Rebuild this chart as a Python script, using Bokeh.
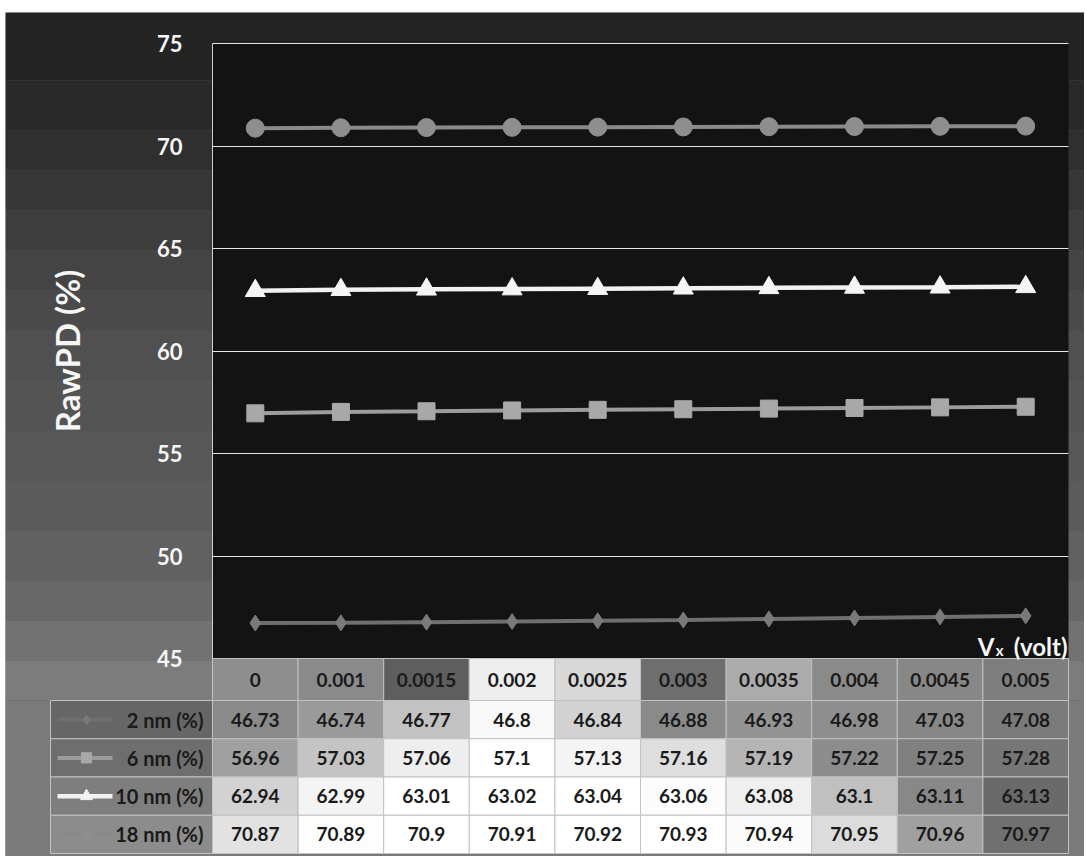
import math
from bokeh.plotting import figure
from bokeh.models import ColumnDataSource, FixedTicker, Label, Range1d
from bokeh.core.properties import value
from bokeh.embed import file_html
from bokeh.resources import INLINE

# ---------------- data ----------------
x_labels = ["0", "0.001", "0.0015", "0.002", "0.0025", "0.003", "0.0035", "0.004", "0.0045", "0.005"]
series_names = ["2 nm (%)", "6 nm (%)", "10 nm (%)", "18 nm (%)"]
nm2 = [46.73, 46.74, 46.77, 46.8, 46.84, 46.88, 46.93, 46.98, 47.03, 47.08]
nm6 = [56.96, 57.03, 57.06, 57.1, 57.13, 57.16, 57.19, 57.22, 57.25, 57.28]
nm10 = [62.94, 62.99, 63.01, 63.02, 63.04, 63.06, 63.08, 63.1, 63.11, 63.13]
nm18 = [70.87, 70.89, 70.9, 70.91, 70.92, 70.93, 70.94, 70.95, 70.96, 70.97]
y_ticks = [45, 50, 55, 60, 65, 70, 75]

# ---------------- styles / layout ----------------
FONT = "Lato"
series_values = [nm2, nm6, nm10, nm18]
series_line_colors = ["#6f6f6f", "#9c9c9c", "#f2f2f2", "#8a8a8a"]
series_marker_colors = ["#7a7a7a", "#a8a8a8", "#f4f4f4", "#8e8e8e"]
series_markers = ["diamond", "square", "triangle", "circle"]
series_marker_sizes = [16, 17, 20, 18]
series_line_widths = [4, 4, 4.5, 4]

COL_PX = 85.6          # one category column in pixels
PX_PER_UNIT = 20.5     # pixels per y unit
PLOT_LEFT_PX, PLOT_TOP_PX = 212, 43


def dx(px):  # horizontal page pixel -> data x
    return -0.5 + (px - PLOT_LEFT_PX) / COL_PX


def dy(py):  # vertical page pixel -> data y
    return 75 - (py - PLOT_TOP_PX) / PX_PER_UNIT


FRAME_L, FRAME_R, FRAME_T, FRAME_B = 5, 1084, 12, 856
TABLE_LEFT = dx(50)
HEADER_BOT = dy(700)
ROW_H = 38.25 / PX_PER_UNIT

# background tones (top -> bottom bands, page pixels)
bg_bands = [(12, 80, "#242424"), (80, 130, "#292929"), (130, 170, "#2f2f2f"), (170, 210, "#363636"),
            (210, 250, "#3d3d3d"), (250, 290, "#444444"), (290, 330, "#4a4a4a"), (330, 380, "#505050"),
            (380, 430, "#545454"), (430, 480, "#575757"), (480, 530, "#5b5b5b"), (530, 580, "#616161"),
            (580, 620, "#686868"), (620, 660, "#727272"), (660, 700, "#7c7c7c"), (700, 856, "#7a7a7a")]

# approximate background tones of the table cells (header row + 4 rows)
header_fills = ["#8e8e8e", "#8a8a8a", "#5e5e5e", "#eeeeee", "#d8d8d8",
                "#6e6e6e", "#ababab", "#8a8a8a", "#878787", "#7e7e7e"]
legend_fills = ["#666666", "#6e6e6e", "#7e7e7e", "#8c8c8c"]
row_fills = [
    ["#8a8a8a", "#9a9a9a", "#c2c2c2", "#f8f8f8", "#d2d2d2", "#8a8a8a", "#949494", "#8e8e8e", "#878787", "#7a7a7a"],
    ["#a0a0a0", "#c4c4c4", "#eeeeee", "#ffffff", "#f4f4f4", "#dedede", "#b4b4b4", "#8c8c8c", "#808080", "#767676"],
    ["#d2d2d2", "#f4f4f4", "#ffffff", "#ffffff", "#ffffff", "#fcfcfc", "#efefef", "#c0c0c0", "#888888", "#6a6a6a"],
    ["#e2e2e2", "#fdfdfd", "#ffffff", "#ffffff", "#ffffff", "#ffffff", "#fbfbfb", "#dcdcdc", "#a0a0a0", "#707070"],
]

p = figure(width=FRAME_R, height=FRAME_B, title=None,
           x_range=Range1d(dx(FRAME_L), dx(FRAME_R)), y_range=Range1d(dy(FRAME_B), dy(FRAME_T)),
           output_backend="svg", toolbar_location=None,
           min_border_left=FRAME_L, min_border_right=0, min_border_top=FRAME_T, min_border_bottom=0)
p.background_fill_color = "#555555"
p.border_fill_color = "#ffffff"
p.outline_line_color = None

# background bands
p.quad(left=dx(FRAME_L), right=dx(FRAME_R), bottom=[dy(b[1]) for b in bg_bands], top=[dy(b[0]) for b in bg_bands],
       fill_color=[b[2] for b in bg_bands], line_color=None, level="image")

# plot area
p.quad(left=-0.5, right=9.5, bottom=45, top=75, fill_color="#131313", line_color=None, level="image")

# table cells
cl, cr, cb, ct, cf = [], [], [], [], []
for i in range(len(x_labels)):
    cl.append(i - 0.5); cr.append(i + 0.5); cb.append(HEADER_BOT); ct.append(45); cf.append(header_fills[i])
row_centers = []
for r in range(len(series_names)):
    top = HEADER_BOT - r * ROW_H
    bot = top - ROW_H
    row_centers.append((top + bot) / 2)
    cl.append(TABLE_LEFT); cr.append(-0.5); cb.append(bot); ct.append(top); cf.append(legend_fills[r])
    for i in range(len(x_labels)):
        cl.append(i - 0.5); cr.append(i + 0.5); cb.append(bot); ct.append(top); cf.append(row_fills[r][i])
p.quad(left=cl, right=cr, bottom=cb, top=ct, fill_color=cf, line_color="#c2c2c2", line_width=1, level="image")

# grid
p.ygrid.ticker = FixedTicker(ticks=[50, 55, 60, 65, 70, 75])
p.ygrid.cross_bounds = (-0.5, 9.5)
p.ygrid.grid_line_color = "#e6e6e6"
p.ygrid.grid_line_width = 1
p.xgrid.ticker = FixedTicker(ticks=[-0.5])
p.xgrid.cross_bounds = (45, 75)
p.xgrid.grid_line_color = "#d0d0d0"
p.xgrid.grid_line_width = 1

# axes
p.xaxis.visible = False
p.yaxis.fixed_location = -0.5
p.yaxis.ticker = FixedTicker(ticks=y_ticks)
p.yaxis.axis_line_color = None
p.yaxis.major_tick_line_color = None
p.yaxis.minor_tick_line_color = None
p.yaxis.major_label_standoff = 24
p.yaxis.major_label_text_font = FONT
p.yaxis.major_label_text_font_style = "bold"
p.yaxis.major_label_text_font_size = "22px"
p.yaxis.major_label_text_color = "#f6f6f6"

# series
xs = list(range(len(x_labels)))
for vals, lc, mc, mk, ms, lw in zip(series_values, series_line_colors, series_marker_colors,
                                    series_markers, series_marker_sizes, series_line_widths):
    src = ColumnDataSource(dict(x=xs, y=vals))
    p.line("x", "y", source=src, line_color=lc, line_width=lw)
    p.scatter("x", "y", source=src, marker=mk, size=ms, fill_color=mc, line_color=mc)

# table texts
hdr_center = (45 + HEADER_BOT) / 2
p.text(x=xs, y=[hdr_center] * len(xs), text=x_labels, text_align="center", text_baseline="middle",
       text_font=value(FONT), text_font_style="bold", text_font_size="19px", text_color="#1a1a1a")
for r, vals in enumerate(series_values):
    p.text(x=xs, y=[row_centers[r]] * len(xs), text=[str(v) for v in vals],
           text_align="center", text_baseline="middle",
           text_font=value(FONT), text_font_style="bold", text_font_size="19px", text_color="#1a1a1a")

# row legend column
p.text(x=[dx(203)] * 4, y=row_centers, text=series_names, text_align="right", text_baseline="middle",
       text_font=value(FONT), text_font_style="bold", text_font_size="20px", text_color="#1a1a1a")
smp_x0, smp_x1 = dx(57), dx(112)
smp_xm = dx(86)
for r in range(4):
    p.line([smp_x0, smp_x1], [row_centers[r]] * 2, line_color=series_line_colors[r], line_width=series_line_widths[r])
    p.scatter([smp_xm], [row_centers[r]], marker=series_markers[r], size=series_marker_sizes[r] * 0.6,
              fill_color=series_marker_colors[r], line_color=series_marker_colors[r])

# axis titles
p.add_layout(Label(x=dx(66), y=60, text="RawPD (%)", angle=math.pi / 2,
                   text_align="center", text_baseline="middle", text_font=FONT,
                   text_font_style="bold", text_font_size="33px", text_color="#f6f6f6"))
vx_y = dy(646)
vx_x = dx(1067)
p.add_layout(Label(x=vx_x, y=vx_y, text="(volt)", text_align="right", text_baseline="alphabetic",
                   text_font=FONT, text_font_style="bold", text_font_size="24px", text_color="#f6f6f6"))
p.add_layout(Label(x=vx_x, y=vx_y, x_offset=-64, y_offset=-3, text="x", text_align="right",
                   text_baseline="alphabetic", text_font=FONT, text_font_style="bold",
                   text_font_size="15px", text_color="#f6f6f6"))
p.add_layout(Label(x=vx_x, y=vx_y, x_offset=-73, text="V", text_align="right", text_baseline="alphabetic",
                   text_font=FONT, text_font_style="bold", text_font_size="24px", text_color="#f6f6f6"))

open("out.html", "w").write(file_html(p, INLINE))
